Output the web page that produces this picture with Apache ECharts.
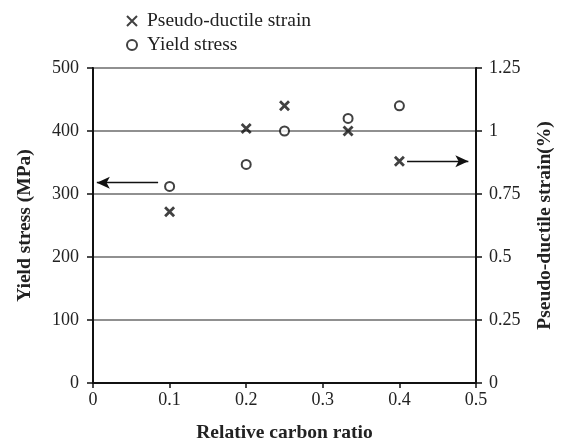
<!DOCTYPE html>
<html>
<head>
<meta charset="utf-8">
<script src="https://cdn.jsdelivr.net/npm/echarts@6/dist/echarts.min.js"></script>
<style>html,body{margin:0;padding:0;background:#fff}#c{width:565px;height:445px}</style>
</head>
<body>
<div id="c"></div>
<script>
const carbonRatio = [0.1, 0.2, 0.25, 0.333, 0.4];
const yieldStress = [312, 347, 400, 420, 440];
const pseudoStrain = [0.68, 1.01, 1.1, 1.0, 0.88];
const xTicks = [0, 0.1, 0.2, 0.3, 0.4, 0.5];
const leftTicks = [0, 100, 200, 300, 400, 500];
const rightTicks = [0, 0.25, 0.5, 0.75, 1, 1.25];

const FONT = '"Liberation Serif","Times New Roman",serif';
const crossPath = 'path://M0,0L10,10M10,0L0,10';
const fmt = ticks => v => { const t = ticks.find(k => Math.abs(k - v) < 1e-9); return t === undefined ? '' : String(t); };

const chart = echarts.init(document.getElementById('c'), null, {renderer: 'canvas'});
chart.setOption({
  animation: false,
  backgroundColor: '#fff',
  textStyle: {fontFamily: FONT},
  legend: {
    orient: 'vertical',
    left: 121,
    top: 6,
    itemGap: 4,
    itemWidth: 20,
    itemHeight: 10,
    textStyle: {fontFamily: FONT, fontSize: 19.5, color: '#222'},
    data: ['Pseudo-ductile strain', 'Yield stress']
  },
  grid: {left: 93, top: 68, width: 383, height: 315, show: true, borderColor: '#111', borderWidth: 2, containLabel: false, outerBoundsMode: 'none'},
  xAxis: {
    type: 'value', min: 0, max: 0.5, interval: 0.1,
    name: 'Relative carbon ratio', nameLocation: 'middle', nameGap: 40,
    nameTextStyle: {fontFamily: FONT, fontSize: 19.5, fontWeight: 'bold', color: '#222'},
    axisLine: {lineStyle: {color: '#111', width: 2}},
    axisTick: {show: true, length: 5, lineStyle: {color: '#111', width: 1.5}},
    axisLabel: {fontFamily: FONT, fontSize: 18, color: '#222', margin: 8, formatter: fmt(xTicks)},
    splitLine: {show: false}
  },
  yAxis: [{
    type: 'value', min: 0, max: 500, interval: 100,
    name: 'Yield stress (MPa)', nameLocation: 'middle', nameGap: 58,
    nameTextStyle: {fontFamily: FONT, fontSize: 19.5, fontWeight: 'bold', color: '#222'},
    axisLine: {show: true, lineStyle: {color: '#111', width: 2}},
    axisTick: {show: true, length: 6, lineStyle: {color: '#111', width: 1.5}},
    axisLabel: {fontFamily: FONT, fontSize: 18, color: '#222', margin: 14, formatter: fmt(leftTicks)},
    splitLine: {show: true, lineStyle: {color: '#909090', width: 2}}
  }, {
    type: 'value', min: 0, max: 1.25, interval: 0.25, position: 'right',
    name: 'Pseudo-ductile strain(%)', nameLocation: 'middle', nameGap: 59,
    nameTextStyle: {fontFamily: FONT, fontSize: 19.5, fontWeight: 'bold', color: '#222'},
    axisLine: {show: true, lineStyle: {color: '#111', width: 2}},
    axisTick: {show: true, length: 6, lineStyle: {color: '#111', width: 1.5}},
    axisLabel: {fontFamily: FONT, fontSize: 18, color: '#222', margin: 13, formatter: fmt(rightTicks)},
    splitLine: {show: false}
  }],
  series: [{
    name: 'Pseudo-ductile strain',
    type: 'scatter',
    yAxisIndex: 1,
    symbol: crossPath,
    symbolSize: 9,
    itemStyle: {color: '#111', borderColor: '#111', borderWidth: 2.8},
    data: carbonRatio.map((x, i) => [x, pseudoStrain[i]]),
    markLine: {
      silent: true, symbol: ['none', 'arrow'], symbolSize: [9, 13],
      label: {show: false},
      lineStyle: {color: '#111', width: 1.3, type: 'solid'},
      data: [[{coord: [0.41, pseudoStrain[4]]}, {coord: [0.49, pseudoStrain[4]]}]]
    }
  }, {
    name: 'Yield stress',
    type: 'scatter',
    yAxisIndex: 0,
    symbol: 'emptyCircle',
    symbolSize: 9,
    itemStyle: {color: '#111', borderColor: '#111', borderWidth: 2.6},
    data: carbonRatio.map((x, i) => [x, yieldStress[i]]),
    markLine: {
      silent: true, symbol: ['none', 'arrow'], symbolSize: [9, 13],
      label: {show: false},
      lineStyle: {color: '#111', width: 1.3, type: 'solid'},
      data: [[{coord: [0.085, 318]}, {coord: [0.005, 318]}]]
    }
  }]
});
</script>
</body>
</html>
